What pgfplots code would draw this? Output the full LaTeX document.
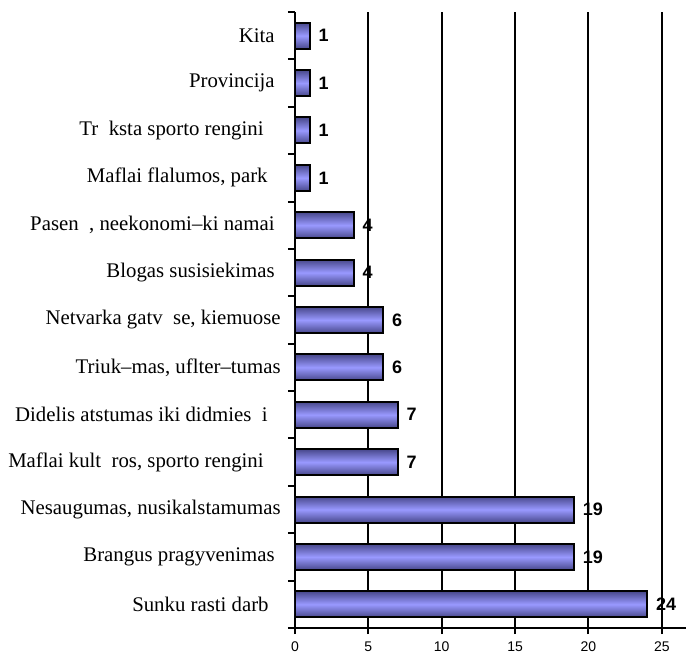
\documentclass[border=0pt]{standalone}
\usepackage{fontspec}
\setmainfont{Liberation Serif}
\newfontfamily\arial{Liberation Sans}
\usepackage{pgfplots}
\pgfplotsset{compat=1.18}
\definecolor{bardark}{RGB}{72,72,140}
\definecolor{barlight}{RGB}{153,153,255}

\pgfplotsset{
    mybar/.style={xbar, bar width=13pt, bar shift=0pt, draw=black, line width=1pt,
        top color=bardark, bottom color=bardark, middle color=barlight,
        nodes near coords,
        nodes near coords style={font=\arial\bfseries\fontsize{9}{9}\selectfont,
            /pgf/number format/assume math mode=true,
            text=black, inner sep=0pt, xshift=4pt, anchor=west}},
}

\begin{document}
\begin{tikzpicture}
\useasboundingbox (-147.5pt,-12.5pt) rectangle (199.5pt,314pt);
\begin{axis}[
    at={(0,0)}, anchor=south west,
    scale only axis,
    width=195.5pt, height=308pt,
    xmin=0, xmax=26.65,
    ymin=-0.5, ymax=12.5,
    /pgf/number format/assume math mode=true,
    axis x line=bottom, axis y line=left,
    axis line style={-, line width=1pt},
    xtick={0,5,...,25},
    xmajorgrids,
    grid style={black, line width=1pt},
    ytick={0,...,12},
    minor ytick={-0.5,0.5,...,12.5},
    yticklabels={
        {Sunku rasti darb\hspace*{6pt}},
        {Brangus pragyvenimas\hspace*{3pt}},
        {Nesaugumas, nusikalstamumas},
        {Maflai kult\ \ ros, sporto rengini\hspace*{8.5pt}},
        {Didelis atstumas iki didmies\ \ i\hspace*{6.5pt}},
        {Triuk–mas, uflter–tumas},
        {Netvarka gatv\ \ se, kiemuose},
        {Blogas susisiekimas\hspace*{3pt}},
        {Pasen\ \ , neekonomi–ki namai\hspace*{3pt}},
        {Maflai flalumos, park\hspace*{6.5pt}},
        {Tr\ \ ksta sporto rengini\hspace*{8.5pt}},
        {Provincija\hspace*{3pt}},
        {Kita\hspace*{3pt}}
    },
    tick align=outside,
    major tick length=3pt,
    minor tick length=3.5pt,
    major y tick style={draw=none},
    tick style={black, line width=1pt},
    yticklabel style={font=\fontsize{10.4}{10.4}\selectfont, inner sep=0pt, xshift=-4pt},
    xticklabel style={font=\arial\fontsize{7}{7}\selectfont, inner sep=0pt, yshift=-3.5pt},
]
\addplot[mybar] coordinates {(24,0)};
\addplot[mybar] coordinates {(19,1)};
\addplot[mybar] coordinates {(19,2)};
\addplot[mybar] coordinates {(7,3)};
\addplot[mybar] coordinates {(7,4)};
\addplot[mybar] coordinates {(6,5)};
\addplot[mybar] coordinates {(6,6)};
\addplot[mybar] coordinates {(4,7)};
\addplot[mybar] coordinates {(4,8)};
\addplot[mybar] coordinates {(1,9)};
\addplot[mybar] coordinates {(1,10)};
\addplot[mybar] coordinates {(1,11)};
\addplot[mybar] coordinates {(1,12)};
\end{axis}
\end{tikzpicture}
\end{document}
